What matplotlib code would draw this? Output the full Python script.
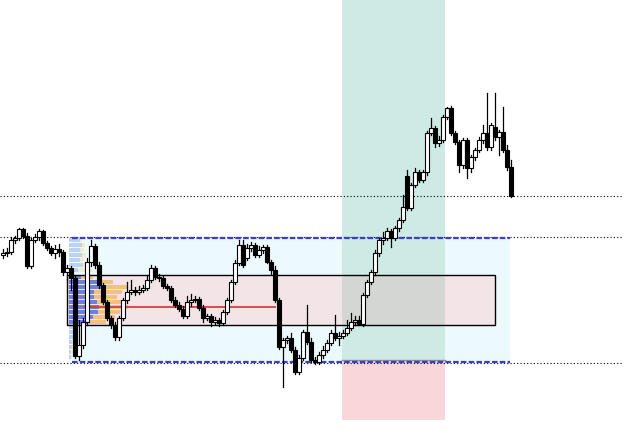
import numpy as np
import matplotlib.pyplot as plt
from matplotlib.patches import Rectangle

# candle data (price points), one candle per bar
opens = [189, 191, 192, 204, 206, 215, 208, 178, 204, 207, 213, 201, 196, 191, 195, 192, 172, 176, 166, 88,
         99, 122, 182, 198, 179, 159, 142, 126, 119, 107, 126, 144, 152, 154, 152, 154, 156, 164, 176, 167,
         166, 158, 156, 144, 139, 135, 128, 142, 144, 145, 136, 126, 128, 122, 124, 121, 132, 144, 162, 181,
         199, 186, 196, 199, 189, 194, 197, 182, 174, 144, 97, 104, 106, 94, 72, 86, 112, 102, 84, 82,
         89, 94, 101, 111, 106, 108, 111, 116, 122, 124, 120, 149, 162, 172, 191, 204, 206, 213, 206, 216,
         224, 268, 236, 259, 272, 264, 272, 311, 316, 301, 304, 327, 336, 311, 302, 279, 304, 276, 287, 294,
         304, 311, 297, 317, 307, 312, 294, 277]
highs = [195, 196, 207, 208, 216, 216, 211, 206, 210, 215, 214, 203, 198, 199, 200, 194, 179, 178, 168, 124,
         126, 186, 204, 200, 182, 161, 144, 128, 122, 128, 146, 162, 164, 157, 158, 159, 168, 179, 178, 170,
         168, 160, 158, 147, 142, 138, 148, 150, 148, 147, 139, 130, 130, 127, 126, 134, 146, 164, 184, 204,
         204, 200, 202, 201, 198, 199, 199, 184, 178, 146, 106, 108, 111, 97, 89, 114, 139, 106, 87, 92,
         98, 104, 114, 129, 112, 114, 124, 131, 128, 128, 151, 164, 174, 194, 206, 212, 216, 215, 218, 226,
         249, 274, 261, 276, 274, 274, 313, 326, 318, 308, 329, 337, 338, 313, 304, 306, 306, 289, 296, 307,
         319, 351, 321, 351, 314, 337, 299, 284]
lows = [186, 188, 190, 201, 204, 206, 176, 176, 202, 204, 199, 194, 189, 186, 188, 169, 164, 154, 86, 84,
        96, 119, 178, 176, 156, 140, 124, 116, 104, 104, 124, 141, 150, 149, 150, 152, 154, 162, 165, 163,
        156, 154, 142, 137, 133, 126, 126, 138, 142, 134, 122, 124, 118, 120, 118, 119, 130, 142, 160, 179,
        177, 184, 193, 187, 187, 191, 181, 170, 142, 95, 57, 101, 92, 70, 70, 84, 100, 82, 80, 80,
        86, 92, 99, 104, 99, 106, 109, 114, 119, 119, 118, 147, 160, 169, 188, 200, 204, 197, 204, 213,
        222, 234, 234, 257, 262, 262, 269, 309, 297, 298, 302, 325, 309, 300, 272, 276, 266, 272, 284, 292,
        301, 294, 294, 304, 289, 292, 274, 247]
closes = [191, 192, 204, 206, 215, 208, 178, 204, 207, 213, 201, 196, 191, 195, 192, 172, 176, 166, 88, 99,
          122, 182, 198, 179, 159, 142, 126, 119, 107, 126, 144, 152, 154, 152, 154, 156, 164, 176, 167, 166,
          158, 156, 144, 139, 135, 128, 142, 144, 145, 136, 126, 128, 122, 124, 121, 132, 144, 162, 181, 199,
          179, 196, 199, 189, 194, 197, 182, 174, 144, 97, 104, 106, 94, 72, 86, 112, 102, 84, 82, 89,
          94, 101, 111, 106, 108, 111, 116, 122, 124, 120, 149, 162, 172, 191, 204, 206, 213, 206, 216, 224,
          237, 236, 259, 272, 264, 272, 311, 316, 301, 304, 327, 336, 311, 302, 279, 304, 276, 287, 294, 304,
          311, 297, 319, 307, 312, 294, 277, 248]

# volume profile rows (price level, buy volume, total volume)
vp_levels = [204, 199, 194, 189, 184, 179, 174, 167, 162, 157, 152, 147, 142, 137, 132, 127, 122,
             117, 112, 107, 102, 97, 92, 87]
vp_buy = [11, 13, 11, 13, 11, 14, 9, 12, 30, 35, 25, 25, 28, 30, 29, 24, 19, 6, 5, 4, 3, 3, 2, 2]
vp_total = [13, 16, 15, 17, 15, 19, 23, 24, 45, 59, 54, 49, 57, 60, 52, 47, 38, 9, 7, 6, 5, 5, 4, 3]

# levels / zones
range_high, range_low = 206, 82
va_high, va_low, poc = 169, 119, 137
dotted_levels = [248, 207, 81]
range_start, range_end = 17.25, 126.75
va_start, va_end = 16, 123
poc_start, poc_end = 20.5, 68
vp_start = 16.5
band_start, band_end = 84.75, 110.5
band_mid, band_bottom = 84, 24

fig = plt.figure(figsize=(6.23, 4.44), dpi=100)
ax = fig.add_axes([0, 0, 1, 1])
ax.set_xlim(-0.75, 155)
ax.set_ylim(0, 444)
ax.axis('off')

# range box
ax.add_patch(Rectangle((range_start, range_low), range_end - range_start, range_high - range_low,
                       facecolor='#ecf9fd', edgecolor='none', zorder=1))
# vertical bands
ax.add_patch(Rectangle((band_start, band_mid), band_end - band_start, 444 - band_mid,
                       facecolor='#cdeae4', edgecolor='none', zorder=1.5))
ax.add_patch(Rectangle((band_start, band_bottom), band_end - band_start, band_mid - band_bottom,
                       facecolor='#f9d6da', edgecolor='none', zorder=1.5))
ax.plot([band_start, band_end], [band_mid, band_mid], color='#8d8aa6', lw=1, zorder=1.6)

# value area box (band overlap shows grey)
ax.add_patch(Rectangle((va_start, va_low), va_end - va_start, va_high - va_low,
                       facecolor='#f3e4e7', edgecolor='none', zorder=2))
ax.add_patch(Rectangle((band_start, va_low), band_end - band_start, va_high - va_low,
                       facecolor='#d4d6d4', edgecolor='none', zorder=2.1))
ax.add_patch(Rectangle((va_start, va_low), va_end - va_start, va_high - va_low,
                       facecolor='none', edgecolor='black', lw=1, zorder=4))

# dotted levels
for lv in dotted_levels:
    ax.axhline(lv, color='black', ls=(0, (1, 2)), lw=0.8, zorder=2.5)

# volume profile
scale = 14.75 / max(vp_total)
for lv, b, t in zip(vp_levels, vp_buy, vp_total):
    inside = va_low <= lv <= va_high
    cb = '#6f80d8' if inside else '#bcd2f3'
    cs = '#f2c27c' if inside else '#f5e9c8'
    ax.barh(lv, t * scale, left=vp_start, height=4, color=cs, zorder=3)
    ax.barh(lv, b * scale, left=vp_start, height=4, color=cb, zorder=3.1)

# POC line
ax.plot([poc_start, poc_end], [poc, poc], color='#d04040', lw=1.3, zorder=3.5)

# range high / low dashed
for lv in (range_high, range_low):
    ax.plot([range_start, range_end], [lv, lv], color='#3a3fc8', lw=1.6,
            ls=(0, (2.5, 1)), zorder=3.6)

# candles
for i, (o, h, l, c) in enumerate(zip(opens, highs, lows, closes)):
    ax.plot([i, i], [l, h], color='black', lw=0.9, zorder=5)
    fc = 'white' if c >= o else 'black'
    ax.add_patch(Rectangle((i - 0.38, min(o, c)), 0.76, max(abs(c - o), 0.8),
                           facecolor=fc, edgecolor='black', lw=0.8, zorder=6))

fig.savefig('out.png', dpi=100)
